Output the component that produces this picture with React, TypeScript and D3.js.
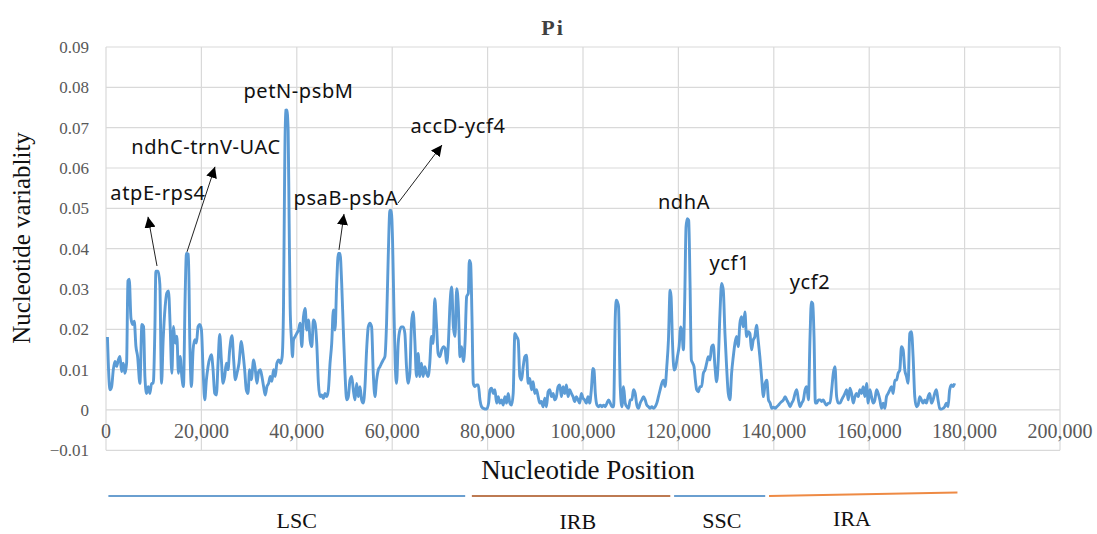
import React from 'react';
import * as d3 from 'd3';

// sliding-window nucleotide diversity, [position (bp), Pi]
const lscPi: [number, number][] = [
  [300, .0181], [836, .005], [1185, .0058], [1533, .01], [1882, .012], [2230, .0108], [2579, .0124], [2927, .0133],
  [3276, .0095], [3624, .0116], [3973, .0091], [4321, .0116], [4600, .032], [4879, .0324], [5228, .0228], [5576, .0212],
  [5925, .022], [6273, .0158], [6622, .0133], [7109, .0066], [7528, .0212], [7876, .0207], [8155, .0083], [8503, .0041],
  [8852, .0058], [9200, .0041], [9549, .0066], [9897, .0066], [10246, .0199], [10455, .0344], [10943, .0344], [11291, .0311],
  [11640, .0066], [11988, .0174], [12407, .0257], [12755, .029], [13104, .0295], [13452, .0207], [13801, .0091], [14149, .0207],
  [14498, .0166], [14846, .0183], [15195, .0091], [15543, .0133], [15892, .0083], [16240, .0058], [16589, .0282], [16867, .0388],
  [17286, .0386], [17564, .0174], [17913, .0058], [18261, .0149], [18610, .0174], [18958, .0166], [19307, .0207], [19655, .0212],
  [20004, .0199], [20352, .01], [20701, .0025], [21049, .0075], [21398, .0108], [22095, .0137], [22443, .01], [22792, .0041],
  [23140, .0037], [23489, .0116], [23837, .0187], [24186, .0124], [24534, .0066], [24883, .0083], [25231, .0116], [25580, .01],
  [25928, .0149], [26416, .0184], [26765, .0124], [27113, .0075], [27462, .0091], [27880, .0116], [28368, .017], [28716, .0141],
  [29065, .01], [29413, .005], [29762, .0041], [30110, .01], [30459, .0075], [30947, .0124], [31295, .01], [31644, .0066],
  [31992, .0095], [32341, .01], [32689, .0083], [33038, .0058], [33386, .0037], [33735, .0058], [34083, .0066], [34432, .0083],
  [34780, .0071], [35129, .01], [35477, .0083], [35826, .0116], [36244, .0124], [36590, .0116], [36930, .0132], [37212, .0256],
  [37421, .0545], [37630, .0743], [37909, .0744], [38188, .0693], [38397, .0462], [38606, .0256], [38885, .0173], [39094, .0132],
  [39303, .0173], [39652, .0182], [40000, .019], [40349, .0198], [40697, .0215], [41046, .0157], [41394, .0231], [41743, .0252],
  [42091, .0198], [42440, .0223], [42788, .0173], [43137, .0157], [43485, .0223], [43834, .0215], [44182, .0165], [44531, .0066],
  [44879, .0033], [45228, .0037], [45576, .0029], [45925, .0041], [46273, .0033], [46622, .005], [46970, .0116], [47319, .0165],
  [47667, .0248], [48016, .0198], [48364, .0314], [48713, .0388], [49061, .0388], [49410, .0314], [49758, .0198], [50107, .0091],
  [50455, .0025], [50804, .0033], [51152, .0074], [51501, .0083], [51849, .005], [52198, .0025], [52546, .0066], [52895, .0033],
  [53243, .0058], [53592, .0025], [53940, .0017], [54289, .0058], [54637, .0149], [54986, .0206], [55334, .0215], [55683, .0206],
  [56031, .0091], [56380, .0033], [56728, .0074], [57077, .0099], [57425, .0107], [57774, .0116], [58122, .0124], [58471, .0132],
  [58819, .0215], [59168, .038], [59516, .0495], [59795, .0495], [60074, .0421], [60352, .0256], [60631, .0116], [60910, .0066],
  [61259, .0165], [61607, .0198], [61956, .0206], [62304, .0206], [62653, .019], [63001, .0107], [63350, .0066], [63698, .0091],
  [64047, .0215], [64395, .0243], [64744, .0173], [65092, .0083], [65441, .014], [65789, .0083], [66138, .0116], [66486, .0083],
  [66835, .0107], [67183, .0091], [67532, .0083], [67880, .0116], [68229, .0182], [68577, .0165], [68926, .0276], [69274, .0215],
  [69623, .014], [69971, .0132], [70381, .0149], [70730, .0157], [71078, .0153], [71427, .0116], [71775, .0165], [72124, .0264],
  [72472, .0305], [72821, .0206], [73169, .0182], [73518, .0301], [73866, .0256], [74215, .0132], [74563, .0157], [74912, .012],
  [75260, .0165], [75609, .0281], [75957, .0289],
];

const irbPi: [number, number][] = [
  [76166, .0371], [76445, .0363], [76724, .0231], [77003, .0066], [77351, .0058], [77700, .0062], [78048, .0062], [78397, .0025],
  [78745, .0008], [79094, .0004], [79791, .0002], [80209, .0017], [80488, .005], [80836, .0054], [81185, .0041], [81533, .005],
  [81882, .0017], [82230, .0033], [82579, .0017], [82927, .0025], [83276, .0012], [83624, .0033], [83973, .0017], [84321, .0041],
  [84670, .0017], [85018, .0012], [85367, .0041], [85715, .019], [86064, .0182], [86412, .0173], [86761, .0083], [87109, .0074],
  [87458, .0107], [87806, .0132], [88155, .0136], [88503, .0066], [88852, .0078], [89200, .005], [89549, .007], [89897, .0041],
  [90246, .005], [90594, .0033], [90943, .0017], [91291, .0021], [91640, .0008], [91988, .0029], [92337, .0008], [92685, .0045],
  [93034, .005], [93382, .0033], [93731, .0041], [94079, .0025], [94428, .0033], [94776, .0058], [95125, .0062], [95473, .0033],
  [95822, .0058], [96170, .0041], [96519, .0062], [96867, .0033], [97216, .005], [97564, .0041], [97913, .0033], [98261, .0021],
  [98610, .0033], [98958, .0025], [99307, .0017], [99655, .0041], [100004, .0029], [100352, .0025], [100701, .0017], [101049, .0033],
  [101398, .0017], [101746, .005], [102095, .0103], [102304, .0099], [102583, .0041], [102931, .0012], [103280, .0008], [103628, .0012],
  [103977, .0008], [104325, .0012], [104674, .0008], [105022, .0017], [105371, .0025], [105719, .0017], [106068, .0008], [106416, .0008],
  [106765, .0231], [106974, .0272], [107322, .0264], [107454, .0256], [107803, .0058], [108151, .0008], [108500, .0058], [108848, .0017],
  [109197, .0008], [109545, .0004], [109894, .0025], [110242, .0025], [110591, .005], [110939, .0041], [111288, .0012], [111636, .0004],
  [111985, .0017], [112333, .0025], [112682, .0033], [113030, .0025], [113379, .0012], [113727, .0008], [114076, .0004], [114424, .0008],
  [114773, .0004], [115121, .0008], [115470, .0017], [115818, .0033], [116167, .005], [116515, .0066], [116864, .0074], [117212, .0058],
  [117561, .0107], [117909, .0173], [118258, .0297], [118467, .0281],
];

const sscPi: [number, number][] = [
  [118745, .0173], [119094, .0099], [119442, .0107], [119791, .0132], [120139, .0157], [120488, .0206], [120767, .019], [121046, .0149],
  [121324, .0272], [121603, .0454], [121882, .0474], [122161, .047], [122440, .0314], [122718, .0124], [122997, .0116], [123276, .0107],
  [123555, .0074], [123834, .005], [124182, .0045], [124531, .0058], [124879, .0058], [125228, .0091], [125576, .0099], [125925, .0116],
  [126273, .0132], [126622, .0124], [126970, .0157], [127319, .0161], [127667, .0107], [128016, .007], [128364, .0124], [128713, .0239],
  [129061, .0314], [129410, .0297], [129758, .019], [130107, .0107], [130455, .0041], [130804, .0025], [131152, .0091], [131501, .0132],
  [131849, .0165], [132198, .0182], [132546, .0157], [132895, .0215], [133243, .0231], [133592, .0206], [133940, .0243], [134289, .0182],
  [134637, .0194], [134986, .019], [135334, .0149], [135683, .0173], [136031, .0182], [136380, .021], [136728, .0173], [137077, .0132],
  [137425, .0083], [137839, .0033], [138188, .0066], [138536, .0074],
];

const iraPi: [number, number][] = [
  [138885, .0025], [139233, .0017], [139582, .0004], [139930, .0007], [140279, .0004], [140627, .0008], [140976, .0012], [141324, .0017],
  [141673, .0021], [142021, .0025], [142370, .0033], [142718, .0025], [143067, .0017], [143415, .0008], [143764, .0017], [144112, .0025],
  [144461, .0041], [144809, .005], [145158, .0025], [145506, .0008], [145855, .0017], [146203, .0025], [146552, .005], [146900, .0058],
  [147249, .0025], [147597, .0182], [147876, .0268], [148155, .0264], [148434, .0182], [148713, .0017], [148991, .0017], [149340, .0025],
  [149688, .0025], [150037, .0021], [150385, .0025], [150734, .0017], [151082, .0012], [151431, .0017], [151779, .0017], [152128, .005],
  [152476, .0091], [152825, .0107], [153173, .0033], [153522, .0017], [153870, .0017], [154219, .0025], [154567, .0033], [154916, .0041],
  [155264, .005], [155613, .0025], [155961, .0054], [156310, .0041], [156658, .0017], [157007, .0033], [157355, .0041], [157704, .0033],
  [158052, .005], [158401, .0041], [158749, .0058], [159098, .0033], [159446, .0066], [159795, .0017], [160143, .005], [160492, .0033],
  [160840, .0017], [161189, .0025], [161537, .005], [161886, .0041], [162234, .0025], [162583, .0004], [162931, .0017], [163280, .0004],
  [163628, .0033], [163977, .0041], [164325, .005], [164674, .0058], [165022, .0041], [165371, .0074], [165719, .0074], [166068, .0091],
  [166416, .0099], [166765, .0157], [167113, .0149], [167462, .0099], [167810, .0083], [168159, .0066], [168507, .019], [168856, .0194],
  [169204, .0132], [169553, .0033], [169901, .0008], [170250, .0012], [170598, .0033], [170947, .0025], [171295, .0017], [171644, .0025],
  [171992, .0017], [172341, .0033], [172689, .0041], [173038, .0017], [173386, .0025], [173735, .0041], [174083, .005], [174432, .0025],
  [174780, .0004], [175129, .0002], [175477, .0004], [175826, .0008], [176174, .0017], [176523, .0008], [176871, .005], [177220, .0062],
  [177568, .0058], [177917, .0066],
];

const yTicks = [-0.01, 0, 0.01, 0.02, 0.03, 0.04, 0.05, 0.06, 0.07, 0.08, 0.09];
const xTicks = [0, 20000, 40000, 60000, 80000, 100000, 120000, 140000, 160000, 180000, 200000];

const regions = [
  { name: 'LSC', start: 500, end: 75300, label: 40000, color: '#6a9fd0' },
  { name: 'IRB', start: 76700, end: 118300, label: 98900, color: '#bd7a52' },
  { name: 'SSC', start: 119100, end: 138200, label: 129100, color: '#6a9fd0' },
  { name: 'IRA', start: 139000, end: 178500, label: 156400, color: '#ee8a44' },
];

// label anchor (position, Pi) and optional arrow from -> to
const annotations = [
  { text: 'petN-psbM', pos: 40356, pi: 0.0774 },
  { text: 'ndhC-trnV-UAC', pos: 20964, pi: 0.0635, arrow: [16981, 0.0392, 22851, 0.0603] },
  { text: 'atpE-rps4', pos: 10901, pi: 0.0521, arrow: [10692, 0.0357, 8805, 0.0479] },
  { text: 'psaB-psbA', pos: 50314, pi: 0.0508, arrow: [48846, 0.0397, 49894, 0.0486] },
  { text: 'accD-ycf4', pos: 73793, pi: 0.0687, arrow: [61215, 0.0513, 70439, 0.0657] },
  { text: 'ndhA', pos: 121172, pi: 0.0498 },
  { text: 'ycf1', pos: 130776, pi: 0.0347 },
  { text: 'ycf2', pos: 147587, pi: 0.0300 },
];

const serif = '"Liberation Serif", "Times New Roman", serif';
const sans = '"Noto Sans", "Open Sans", sans-serif';

export default function App() {
  const W = 1097, H = 534;
  const x = d3.scaleLinear().domain([0, 200000]).range([106, 1060]);
  const y = d3.scaleLinear().domain([-0.01, 0.09]).range([450.3, 47]);

  const allPi = [...lscPi, ...irbPi, ...sscPi, ...iraPi];
  const line = d3.line<[number, number]>()
    .x(d => x(d[0]))
    .y(d => y(d[1]))
    .curve(d3.curveMonotoneX);

  const fmtX = d3.format(',');
  const fmtY = (v: number) => (v < 0 ? '\u22120.01' : v === 0 ? '0' : v.toFixed(2));

  return (
    <svg width={W} height={H} style={{ position: 'absolute', left: 0, top: 0, background: '#fff' }}>
      <defs>
        <marker id="arr" viewBox="0 0 10 10" refX="10" refY="5" markerWidth="11" markerHeight="11"
          markerUnits="userSpaceOnUse" orient="auto">
          <path d="M0,0 L10,5 L0,10 z" fill="#000" />
        </marker>
      </defs>

      <text x={553} y={35} textAnchor="middle" fontFamily={serif} fontWeight="bold" fontSize={22}
        letterSpacing={2} fill="#404040">Pi</text>

      {/* grid */}
      <g stroke="#d9d9d9" strokeWidth={1.2}>
        {yTicks.map(t => (
          <line key={'h' + t} x1={x(0)} x2={x(200000)} y1={y(t)} y2={y(t)} />
        ))}
        {xTicks.map(t => (
          <line key={'v' + t} x1={x(t)} x2={x(t)} y1={y(-0.01)} y2={y(0.09)} />
        ))}
      </g>

      {/* y ticks */}
      <g fontFamily={serif} fontSize={17} fill="#595959" textAnchor="end">
        {yTicks.map(t => (
          <text key={t} x={89} y={y(t) + 6}>{fmtY(t)}</text>
        ))}
      </g>

      {/* x ticks */}
      <g fontFamily={serif} fontSize={20} fill="#595959" textAnchor="middle">
        {xTicks.map(t => (
          <text key={t} x={x(t)} y={438}>{fmtX(t)}</text>
        ))}
      </g>

      <text transform="translate(30,238) rotate(-90)" textAnchor="middle" fontFamily={serif}
        fontSize={25} fill="#111">Nucleotide variablity</text>

      <path d={line(allPi) || ''} fill="none" stroke="#5b9bd5" strokeWidth={2.9} strokeLinejoin="round" />

      {/* gene labels */}
      <g fontFamily={sans} fontSize={20} letterSpacing={0.6} fill="#111" textAnchor="middle">
        {annotations.map(a => (
          <text key={a.text} x={x(a.pos)} y={y(a.pi)}>{a.text}</text>
        ))}
      </g>
      <g stroke="#222" strokeWidth={1}>
        {annotations.filter(a => a.arrow).map(a => (
          <line key={a.text} x1={x(a.arrow![0])} y1={y(a.arrow![1])} x2={x(a.arrow![2])} y2={y(a.arrow![3])}
            markerEnd="url(#arr)" />
        ))}
      </g>

      <text x={588} y={479} textAnchor="middle" fontFamily={serif} fontSize={27} fill="#111">Nucleotide Position</text>

      {/* genome regions */}
      {regions.map((r, i) => (
        <g key={r.name}>
          <line x1={x(r.start)} x2={x(r.end)} y1={496} y2={i === 3 ? 492.5 : 496}
            stroke={r.color} strokeWidth={2} />
          <text x={x(r.label)} y={i === 3 ? 526 : i === 1 ? 529 : 528} textAnchor="middle"
            fontFamily={serif} fontSize={22} fill="#111">{r.name}</text>
        </g>
      ))}
    </svg>
  );
}
